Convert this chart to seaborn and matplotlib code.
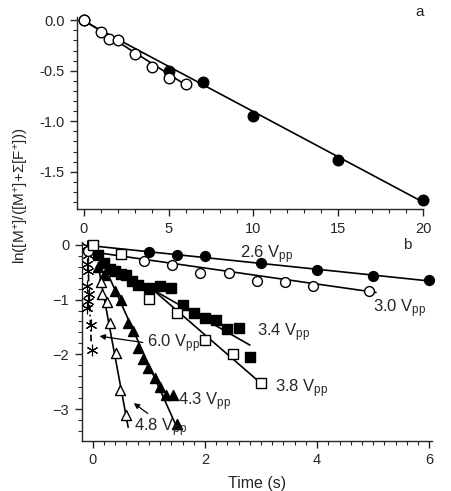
import numpy as np
import matplotlib
matplotlib.use("Agg")
import matplotlib.pyplot as plt
import seaborn as sns

# ---- data (panel a) ----
a_filled_x = [0, 5, 7, 10, 15, 20]
a_filled_y = [0.0, -0.50, -0.61, -0.95, -1.38, -1.78]
a_open_x = [0, 1, 1.5, 2, 3, 4, 5, 6]
a_open_y = [0.0, -0.12, -0.19, -0.20, -0.33, -0.46, -0.57, -0.63]

# ---- data (panel b) ----
v26_x = [1.0, 1.5, 2.0, 3.0, 4.0, 5.0, 6.0]
v26_y = [-0.13, -0.18, -0.20, -0.335, -0.46, -0.57, -0.64]
v30_x = [-0.08, 0.92, 1.42, 1.92, 2.42, 2.92, 3.42, 3.92, 4.92]
v30_y = [-0.12, -0.29, -0.37, -0.52, -0.52, -0.66, -0.68, -0.76, -0.85]
v34_x = [0.1, 0.2, 0.3, 0.4, 0.5, 0.6, 0.7, 0.8, 1.0, 1.2, 1.4, 1.6, 1.8, 2.0, 2.2, 2.4, 2.6, 2.8]
v34_y = [-0.18, -0.33, -0.45, -0.48, -0.54, -0.56, -0.66, -0.73, -0.79, -0.75, -0.78,
         -1.10, -1.24, -1.34, -1.37, -1.54, -1.52, -2.04]
v38_x = [0.0, 0.5, 1.0, 1.5, 2.0, 2.5, 3.0]
v38_y = [0.0, -0.16, -0.99, -1.24, -1.74, -2.00, -2.53]
v43_x = [0.1, 0.2, 0.4, 0.5, 0.63, 0.71, 0.8, 0.89, 0.98, 1.1, 1.19, 1.31, 1.43, 1.5]
v43_y = [-0.40, -0.55, -0.84, -1.00, -1.43, -1.58, -1.88, -2.08, -2.25, -2.44, -2.60,
         -2.74, -2.74, -3.28]
v48_x = [0.14, 0.17, 0.25, 0.3, 0.42, 0.49, 0.6]
v48_y = [-0.67, -0.90, -1.05, -1.43, -1.98, -2.65, -3.11]
v60_x = [-0.1, -0.08, -0.1, -0.08, -0.1, -0.06, -0.08, -0.1, -0.04, -0.02]
v60_y = [-0.03, -0.18, -0.35, -0.47, -0.75, -0.90, -1.03, -1.15, -1.47, -1.92]

# fitted lines: ([x0, x1], [y0, y1])
a_fit_filled = ([0, 20], [-0.01, -1.80])
a_fit_open = ([0, 6], [0.0, -0.64])
fit26 = ([0, 6], [-0.02, -0.66])
fit30 = ([-0.08, 5.05], [-0.12, -0.87])
fit34 = ([1.07, 2.8], [-0.82, -1.83])
fit38 = ([1.07, 3.0], [-0.82, -2.53])
fit43 = ([0.1, 1.52], [-0.15, -3.38])
fit48 = ([0.12, 0.63], [-0.52, -3.33])
fit60 = ([-0.1, -0.03], [0.0, -1.78])

sns.set_style("ticks")
plt.rcParams["font.family"] = ["Liberation Sans", "DejaVu Sans"]
plt.rcParams["mathtext.fontset"] = "custom"
plt.rcParams["mathtext.rm"] = "Liberation Sans"
plt.rcParams["mathtext.it"] = "Liberation Sans:italic"
plt.rcParams["mathtext.default"] = "regular"

fig = plt.figure(figsize=(4.51, 4.91), dpi=100)
ax1 = fig.add_axes([0.171, 0.574, 0.767, 0.391])
ax2 = fig.add_axes([0.181, 0.102, 0.777, 0.405])


def style_axis(ax):
    for s in ["top", "right"]:
        ax.spines[s].set_visible(False)
    for s in ["left", "bottom"]:
        ax.spines[s].set_linewidth(1.0)
    ax.tick_params(which="major", direction="out", length=5, width=1, labelsize=10.5, pad=4)
    ax.tick_params(which="minor", direction="out", length=3, width=0.8)


def fit_line(ax, fit, **kw):
    sns.lineplot(x=fit[0], y=fit[1], ax=ax, color="black", lw=1.2, sort=False,
                 estimator=None, zorder=2, **kw)


def pts(ax, x, y, marker, face, s=52, lw=1.0):
    sns.scatterplot(x=x, y=y, ax=ax, marker=marker, s=s, color=face, edgecolor="black",
                    linewidth=lw, zorder=3, clip_on=False)


# ---- panel a ----
fit_line(ax1, a_fit_filled)
fit_line(ax1, a_fit_open)
pts(ax1, a_filled_x, a_filled_y, "o", "black", s=58)
pts(ax1, a_open_x, a_open_y, "o", "white", s=58)
ax1.set_xlim(-0.4, 20)
ax1.set_ylim(-1.87, 0.03)
ax1.set_xticks([0, 5, 10, 15, 20])
ax1.set_xticks(np.arange(0, 21, 1), minor=True)
ax1.set_yticks([0.0, -0.5, -1.0, -1.5])
ax1.set_yticklabels(["0.0", "-0.5", "-1.0", "-1.5"])
ax1.set_yticks(np.arange(-1.8, 0.01, 0.1), minor=True)
style_axis(ax1)
ax1.set_xlabel("")
ax1.set_ylabel("")
ax1.text(0.99, 1.025, "a", transform=ax1.transAxes, fontsize=11, ha="center", va="center")

# ---- panel b ----
for f in [fit26, fit30, fit34, fit38, fit43, fit48]:
    fit_line(ax2, f)
fit_line(ax2, fit60, linestyle=(0, (4, 2, 1, 2)))
pts(ax2, v60_x, v60_y, (6, 2, 0), "black", s=60, lw=0.8)
pts(ax2, v34_x, v34_y, "s", "black", s=42)
pts(ax2, v43_x, v43_y, "^", "black", s=52)
pts(ax2, v48_x, v48_y, "^", "white", s=52)
pts(ax2, v26_x, v26_y, "o", "black", s=50)
pts(ax2, v30_x, v30_y, "o", "white", s=50)
pts(ax2, v38_x, v38_y, "s", "white", s=46)

ax2.set_xlim(-0.2, 6.05)
ax2.set_ylim(-3.58, 0.05)
ax2.set_xticks([0, 2, 4, 6])
ax2.set_xticks(np.arange(0, 6.01, 0.2), minor=True)
ax2.set_yticks([0, -1, -2, -3])
ax2.set_yticks(np.arange(-3.4, 0.01, 0.2), minor=True)
style_axis(ax2)
ax2.set_xlabel("Time (s)", fontsize=11.5, labelpad=6)
ax2.set_ylabel("")

lab = dict(fontsize=12, va="center", ha="left")
ax2.text(2.62, -0.18, r"2.6 V$_{\rm pp}$", **lab)
ax2.text(4.99, -1.17, r"3.0 V$_{\rm pp}$", **lab)
ax2.text(2.93, -1.60, r"3.4 V$_{\rm pp}$", **lab)
ax2.text(3.24, -2.63, r"3.8 V$_{\rm pp}$", **lab)
ax2.text(1.52, -2.87, r"4.3 V$_{\rm pp}$", **lab)
ax2.text(0.74, -3.33, r"4.8 V$_{\rm pp}$", **lab)
ax2.text(0.96, -1.81, r"6.0 V$_{\rm pp}$", **lab)
ax2.text(5.6, 0.0, "b", fontsize=11, ha="center", va="center")

arrow = dict(arrowstyle="-|>", color="black", lw=0.9, mutation_scale=8)
ax2.annotate("", xy=(0.07, -1.66), xytext=(0.94, -1.79), arrowprops=arrow)
ax2.annotate("", xy=(0.69, -2.86), xytext=(1.02, -3.11), arrowprops=arrow)

fig.text(22 / 451, 1 - 196 / 491, r"ln([M$^{+}$]/([M$^{+}$]+$\Sigma$[F$^{+}$]))",
         rotation=90, fontsize=11, ha="center", va="center")

fig.savefig("out.png", dpi=100)
